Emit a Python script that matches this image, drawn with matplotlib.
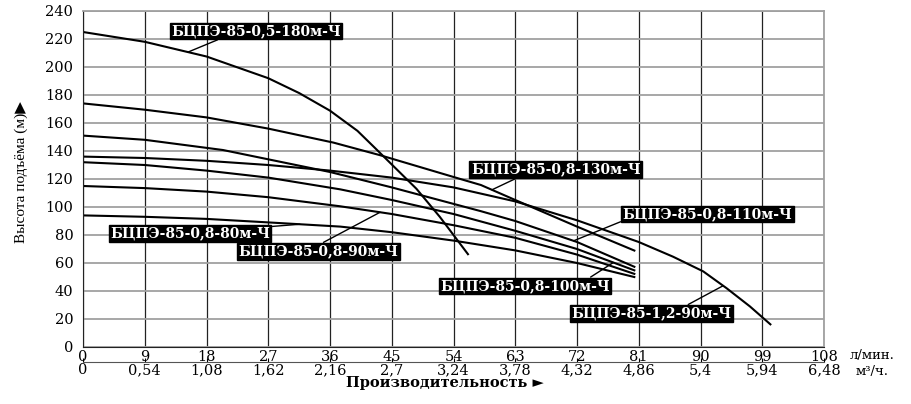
import numpy as np
import matplotlib
matplotlib.use('Agg')
import matplotlib.pyplot as plt

# flow, l/min  /  head, m
x_180 = [0, 9, 18, 27, 31.5, 36, 40, 42.8, 48.6, 52, 56.2]
h_180 = [225, 218, 207.5, 192, 181.4, 168.8, 154.4, 141, 113, 93, 65.7]

x_130 = [0, 9, 18, 27, 36.5, 43.3, 55, 58, 63, 72, 80.5]
h_130 = [174, 169.5, 164, 156, 146, 137, 120, 115.7, 105, 86, 68.6]

x_110 = [0, 9, 20.4, 36, 45, 58, 63, 72, 80.5]
h_110 = [151, 148, 140.7, 125, 114, 97, 90, 75, 57]

x_100 = [0, 9, 18, 27, 37.5, 45, 54, 63, 72, 80.5]
h_100 = [132, 130, 126, 121, 112.6, 105, 95, 83, 70, 54.5]

x_90 = [0, 9, 18, 27, 37.5, 45, 54, 63, 72, 80.5]
h_90 = [115, 113.5, 111, 107, 100.5, 95, 87, 78, 66, 52]

x_80 = [0, 9, 18, 27, 37.5, 45, 54, 63, 72, 80.5]
h_80 = [94, 93, 91.5, 89, 86, 82, 76, 69, 60, 49.8]

x_12 = [0, 9, 18, 27, 36, 45, 54, 63, 72, 81, 86, 90.4, 93.8, 97.2, 100.3]
h_12 = [136, 135, 133, 130, 126, 121, 114, 104, 90.5, 75, 64.5, 54, 42, 29, 15.7]

lpm_ticks = list(range(0, 109, 9))
m3h_labels = ['0', '0,54', '1,08', '1,62', '2,16', '2,7', '3,24', '3,78',
              '4,32', '4,86', '5,4', '5,94', '6,48']
head_ticks = list(range(0, 241, 20))

# name, x, h, label centre (data), leader x on curve, relpos on box
curves = [
    ('БЦПЭ-85-0,5-180м-Ч', x_180, h_180, (25.2, 225.7), 15.3, (0.3, 0)),
    ('БЦПЭ-85-0,8-130м-Ч', x_130, h_130, (68.9, 126.8), 59.6, (0.29, 0)),
    ('БЦПЭ-85-0,8-110м-Ч', x_110, h_110, (91.0, 95.0), 71.5, (0, 0)),
    ('БЦПЭ-85-0,8-100м-Ч', x_100, h_100, (64.4, 43.6), 77.3, (0.87, 1)),
    ('БЦПЭ-85-0,8-90м-Ч', x_90, h_90, (34.3, 68.4), 43.3, (0.51, 1)),
    ('БЦПЭ-85-0,8-80м-Ч', x_80, h_80, (15.6, 81.0), 31.6, (1, 1)),
    ('БЦПЭ-85-1,2-90м-Ч', x_12, h_12, (82.8, 24.0), 93.3, (0.71, 1)),
]

plt.rcParams['font.family'] = ['DejaVu Serif', 'DejaVu Sans']

fig = plt.figure(figsize=(9.11, 4.04), dpi=100)
ax = fig.add_axes([83 / 911, 1 - 347 / 404, 741 / 911, 336 / 404])

ax.set_xlim(0, 108)
ax.set_ylim(0, 240)
ax.set_xticks(lpm_ticks)
ax.set_yticks(head_ticks)
ax.grid(axis='x', color='#222222', lw=0.9)
ax.grid(axis='y', color='#a0a0a0', lw=1.3)
ax.set_axisbelow(True)
ax.tick_params(axis='both', length=0, labelsize=10.5)
ax.tick_params(axis='x', pad=2)
ax.tick_params(axis='y', pad=7)
for s in ['top', 'right']:
    ax.spines[s].set_color('#a0a0a0')
    ax.spines[s].set_linewidth(1.3)
ax.spines['left'].set_color('#222222')
ax.spines['bottom'].set_color('#222222')

for name, xs, hs, c, lx, rp in curves:
    ax.plot(xs, hs, color='black', lw=1.5, solid_capstyle='butt')
    ax.annotate(name, xy=(lx, np.interp(lx, xs, hs)), xytext=c,
                ha='center', va='center', color='white', fontsize=10,
                fontweight='bold',
                bbox=dict(boxstyle='square,pad=0.1', fc='black', ec='black'),
                arrowprops=dict(arrowstyle='-', color='black', lw=1.0,
                                relpos=rp, shrinkA=0, shrinkB=0))

sec = ax.secondary_xaxis(-0.0446, functions=(lambda q: q * 0.06, lambda m: m / 0.06))
sec.set_xticks([t * 0.06 for t in lpm_ticks])
sec.set_xticklabels(m3h_labels)
sec.tick_params(axis='x', direction='in', length=3, labelsize=10.5, pad=1)
sec.spines['bottom'].set_color('#555555')

fig.text(872 / 911, 1 - 355 / 404, 'л/мин.', ha='center', va='center', fontsize=9.5)
fig.text(872 / 911, 1 - 371 / 404, 'м³/ч.', ha='center', va='center', fontsize=9.5)
fig.text(445 / 911, 1 - 383 / 404, 'Производительность ►', ha='center', va='center',
         fontsize=10.5, fontweight='bold')
fig.text(21 / 911, 1 - 172 / 404, 'Высота подъёма (м)▶', rotation=90,
         ha='center', va='center', fontsize=11, family=['Liberation Serif', 'DejaVu Sans'])

fig.savefig('out.png', dpi=100)
